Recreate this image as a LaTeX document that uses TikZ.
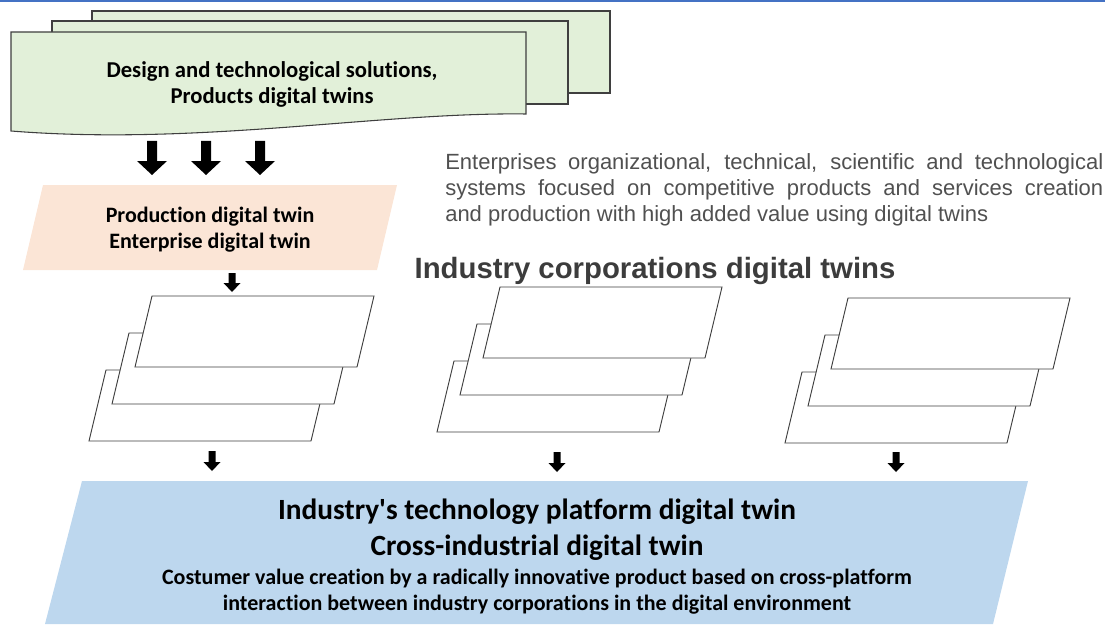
\documentclass[tikz,border=0pt]{standalone}
\usepackage{fontspec}
\setmainfont{Carlito}[Ligatures={TeX,NoCommon}]
\newfontfamily\arialf{Liberation Sans}
\definecolor{docgreen}{HTML}{E2F0D9}
\definecolor{peach}{HTML}{FBE5D6}
\definecolor{paleblue}{HTML}{BDD7EE}
\definecolor{topblue}{HTML}{4472C4}
\definecolor{edgegray}{HTML}{3F3F3F}
\definecolor{txtgray}{HTML}{505050}
\definecolor{headgray}{HTML}{3C3C3C}
\newcommand\dnarrow[6]{% cx, top, shaft end, tip, shaft half, head half
  \fill[black] ({#1-#5},{#2}) -- ({#1+#5},{#2}) -- ({#1+#5},{#3}) -- ({#1+#6},{#3}) -- ({#1},{#4}) -- ({#1-#6},{#3}) -- ({#1-#5},{#3}) -- cycle;}
\newcommand\onelayer[2]{% top-left x, y
  \draw[layer] ({#1},{#2}) -- ({#1+222},{#2}) -- ({#1+205},{#2+71}) -- ({#1-17},{#2+71}) -- cycle;}
\newcommand\layerstack[2]{%
  \onelayer{#1-46}{#2+74}\onelayer{#1-23}{#2+37}\onelayer{#1}{#2}}
\begin{document}
\begin{tikzpicture}[x=0.75pt,y=-0.75pt,
  doc/.style={fill=docgreen, draw=edgegray, line width=0.8pt},
  layer/.style={fill=white, draw=edgegray, line width=0.7pt},
  lbl/.style={font=\bfseries\fontsize{17}{19.5}\selectfont, align=center, inner sep=0pt},
  mid/.style={font=\bfseries\fontsize{16.5}{19.5}\selectfont, align=center, inner sep=0pt},
  bigl/.style={font=\bfseries\fontsize{22}{27}\selectfont, align=center, inner sep=0pt}]
\useasboundingbox (0,0) rectangle (1105,624);
% top rule
\fill[topblue] (0,0) rectangle (1105,2.5);
% multidocument
\draw[doc] (92,11) rectangle (610,93);
\draw[doc] (52,21) rectangle (568,104);
\draw[doc] (11,32) -- (526,32) -- (526,114) .. controls (380,112) and (200,146) .. (11,131) -- cycle;
\node[lbl] (design) at (272,84) {Design and technological solutions,\\Products digital twins};
% big arrows
\dnarrow{152}{141}{161}{175}{5}{15}
\dnarrow{206}{141}{161}{175}{5}{15}
\dnarrow{260}{141}{161}{175}{5}{15}
% production parallelogram
\fill[peach] (43,185) -- (397,185) -- (377,270) -- (23,270) -- cycle;
\node[mid] (prod) at (210,230) {Production digital twin\\Enterprise digital twin};
% descriptive text
\node[anchor=north west, inner sep=0pt, text width=493.5pt, align=justify,
      font=\arialf\fontsize{16.5}{19.5}\selectfont, text=txtgray] (desc) at (445,153)
 {Enterprises organizational, technical, scientific and technological\linebreak
  systems focused on competitive products and services creation\linebreak
  and production with high added value using digital twins};
\node[font=\arialf\bfseries\fontsize{22}{26}\selectfont, text=headgray, inner sep=0pt] (corp) at (655,271) {Industry corporations digital twins};
% small arrow under production
\dnarrow{232}{273}{283}{292}{3.5}{8.5}
% stacks
\layerstack{152}{296}
\layerstack{500}{287}
\layerstack{848}{298}
% small arrows
\dnarrow{212}{451}{462}{471}{3.5}{8.5}
\dnarrow{557}{452}{463}{472}{3.5}{8.5}
\dnarrow{896}{452}{463}{472}{3.5}{8.5}
% platform
\fill[paleblue] (82,481) -- (1028,481) -- (993,624) -- (45,624) -- cycle;
\node[bigl] (plat) at (537,530) {Industry\textquotesingle s technology platform digital twin\\Cross-industrial digital twin};
\node[mid] (cust) at (537,592) {Costumer value creation by a radically innovative product based on cross-platform\\interaction between industry corporations in the digital environment};
\end{tikzpicture}
\end{document}
